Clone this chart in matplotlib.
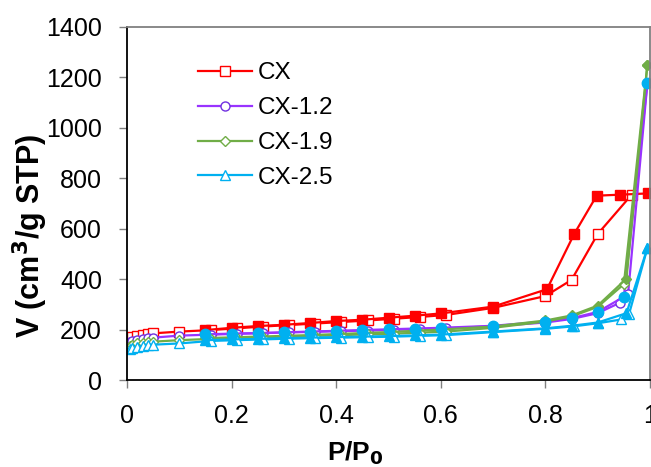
import matplotlib.pyplot as plt

plt.rcParams['font.family'] = ['Liberation Sans', 'DejaVu Sans']

# CX
cx_ads_p = [0.005, 0.01, 0.02, 0.03, 0.04, 0.05, 0.1, 0.16, 0.21, 0.26, 0.31, 0.36, 0.41,
            0.46, 0.51, 0.56, 0.61, 0.7, 0.8, 0.85, 0.9, 0.965]
cx_ads_v = [168, 172, 176, 179, 182, 185, 192, 198, 205, 212, 218, 224, 230,
            236, 243, 250, 258, 286, 333, 397, 579, 735]
cx_des_p = [0.996, 0.943, 0.898, 0.855, 0.803, 0.7, 0.6, 0.55, 0.5, 0.45, 0.4, 0.35,
            0.3, 0.25, 0.2, 0.15]
cx_des_v = [740, 735, 731, 579, 360, 291, 264, 255, 247, 239, 234, 226,
            219, 214, 207, 198]

# CX-1.2
cx12_ads_p = [0.005, 0.01, 0.02, 0.03, 0.04, 0.05, 0.1, 0.16, 0.21, 0.26, 0.31, 0.36, 0.41,
              0.46, 0.51, 0.56, 0.61, 0.7, 0.8, 0.85, 0.9, 0.943, 0.958, 0.995]
cx12_ads_v = [150, 155, 160, 163, 166, 168, 176, 180, 183, 186, 189, 191, 194,
              196, 199, 202, 205, 213, 228, 242, 265, 307, 340, 1177]
cx12_des_p = [0.995, 0.95, 0.9, 0.85, 0.8, 0.7, 0.6, 0.55, 0.5, 0.45, 0.4, 0.35,
              0.3, 0.25, 0.2, 0.15]
cx12_des_v = [1177, 330, 270, 245, 232, 215, 207, 204, 201, 198, 195, 192,
              189, 186, 184, 181]

# CX-1.9
cx19_ads_p = [0.005, 0.01, 0.02, 0.03, 0.04, 0.05, 0.1, 0.16, 0.21, 0.26, 0.31, 0.36, 0.41,
              0.46, 0.51, 0.56, 0.61, 0.7, 0.8, 0.85, 0.9, 0.95, 0.995]
cx19_ads_v = [135, 140, 145, 148, 150, 152, 158, 163, 166, 169, 172, 175, 178,
              181, 184, 188, 192, 207, 232, 252, 290, 380, 1250]
cx19_des_p = [0.995, 0.955, 0.9, 0.85, 0.8, 0.7, 0.6, 0.55, 0.5, 0.45, 0.4, 0.35,
              0.3, 0.25, 0.2, 0.15]
cx19_des_v = [1250, 402, 295, 256, 236, 212, 200, 195, 190, 186, 182, 178,
              175, 172, 169, 166]

# CX-2.5
cx25_ads_p = [0.005, 0.01, 0.02, 0.03, 0.04, 0.05, 0.1, 0.16, 0.21, 0.26, 0.31, 0.36, 0.41,
              0.46, 0.51, 0.56, 0.61, 0.7, 0.8, 0.855, 0.9, 0.945, 0.96, 0.995]
cx25_ads_v = [122, 127, 132, 135, 138, 140, 145, 155, 158, 161, 164, 166, 168,
              170, 172, 175, 178, 190, 203, 213, 225, 240, 262, 523]
cx25_des_p = [0.995, 0.955, 0.9, 0.85, 0.8, 0.7, 0.6, 0.55, 0.5, 0.45, 0.4, 0.35,
              0.3, 0.25, 0.2, 0.15]
cx25_des_v = [523, 265, 228, 215, 205, 192, 180, 177, 174, 172, 170, 168,
              166, 163, 161, 158]

red = '#FF0000'
purple = '#9933FF'
green = '#70AD47'
cyan = '#00B0F0'

fig = plt.figure(figsize=(6.51, 4.67), dpi=100)
ax = fig.add_axes([127/651, 87/467, 523/651, 353/467])

lw = 1.6
ms = 6.5

# adsorcion: marcadores abiertos, desorcion: marcadores llenos
ax.plot(cx_ads_p, cx_ads_v, color=red, lw=lw, marker='s', ms=ms, mfc='white', mec=red, label='CX')
ax.plot(cx_des_p, cx_des_v, color=red, lw=lw, marker='s', ms=ms, mfc=red, mec=red)

ax.plot(cx12_ads_p, cx12_ads_v, color=purple, lw=lw, marker='o', ms=ms, mfc='white', mec='#7030E0', label='CX-1.2')
ax.plot(cx12_des_p, cx12_des_v, color=purple, lw=lw)

ax.plot(cx19_ads_p, cx19_ads_v, color=green, lw=lw, marker='D', ms=ms-1, mfc='white', mec=green, label='CX-1.9')
ax.plot(cx19_des_p, cx19_des_v, color=green, lw=lw, marker='D', ms=ms-1, mfc=green, mec=green)

ax.plot(cx25_ads_p, cx25_ads_v, color=cyan, lw=lw, marker='^', ms=ms, mfc='white', mec=cyan, label='CX-2.5')
ax.plot(cx25_des_p, cx25_des_v, color=cyan, lw=lw, marker='^', ms=ms, mfc=cyan, mec=cyan)
ax.plot(cx12_des_p, cx12_des_v, ls='none', marker='o', ms=ms+1, mfc=cyan, mec=cyan)

ax.set_xlim(0, 1)
ax.set_ylim(0, 1400)
ax.set_xticks([0, 0.2, 0.4, 0.6, 0.8, 1])
ax.set_xticklabels(['0', '0.2', '0.4', '0.6', '0.8', '1'])
ax.set_yticks(range(0, 1401, 200))

ax.tick_params(axis='both', labelsize=18, color='#808080', length=6, width=1)
ax.tick_params(axis='x', pad=11)
ax.tick_params(axis='y', pad=12)
for s in ['left', 'bottom']:
    ax.spines[s].set_color('black')
    ax.spines[s].set_linewidth(1.3)
for s in ['top', 'right']:
    ax.spines[s].set_color('#808080')
    ax.spines[s].set_linewidth(1.3)

ax.set_xlabel('P/P$_\\mathbf{0}$', fontsize=19, fontweight='bold')
ax.xaxis.set_label_coords(0.436, -0.168)
ax.xaxis.label.set_va('top')
ax.set_ylabel('V (cm$^\\mathbf{3}$/g STP)', fontsize=22, fontweight='bold')
ax.yaxis.set_label_coords(-0.147, 0.41)

ax.legend(loc='upper left', bbox_to_anchor=(0.136, 0.90), frameon=False, fontsize=17.5,
          handlelength=2.22, handletextpad=0.22, borderpad=0, borderaxespad=0,
          labelspacing=0.53)

fig.savefig('out.png', dpi=100)
